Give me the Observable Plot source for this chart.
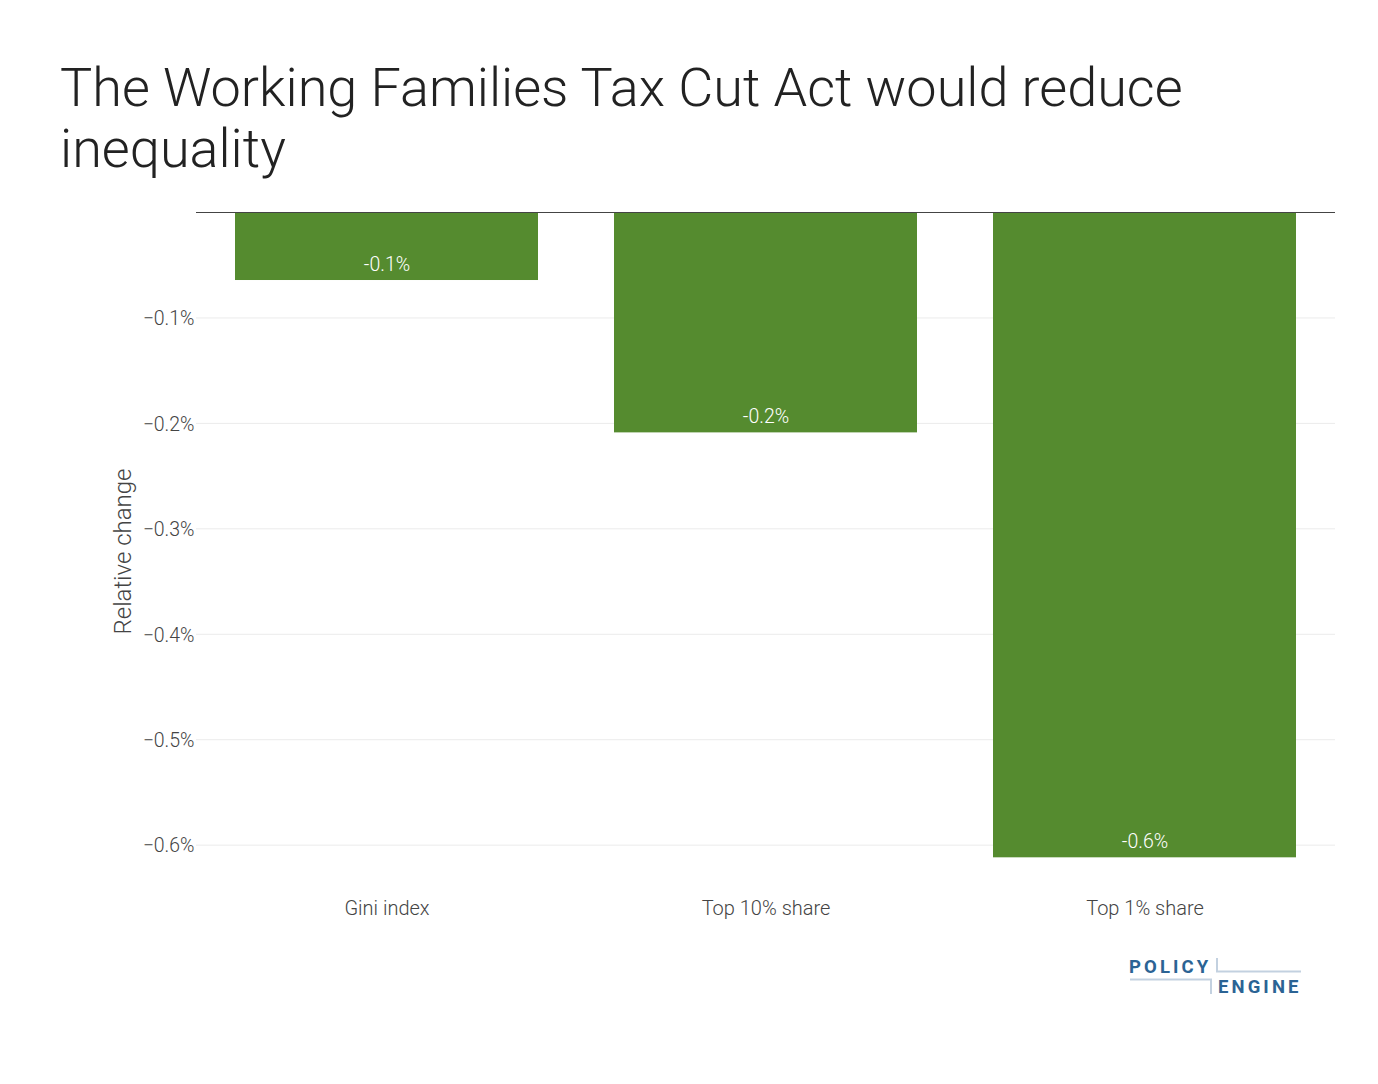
<!DOCTYPE html>
<html>
<head>
<meta charset="utf-8">
<script src="https://cdn.jsdelivr.net/npm/d3@7"></script>
<script src="https://cdn.jsdelivr.net/npm/@observablehq/plot@0.6"></script>
<style>
  html, body { margin: 0; padding: 0; background: #fff; }
  body { width: 1378px; height: 1084px; position: relative; font-family: Roboto, sans-serif; }
  #title { position: absolute; left: 60px; top: 57px; font-size: 54px; font-weight: 300; color: #222; line-height: 61px; margin: 0; width: 1200px; }
  #chart { position: absolute; left: 0; top: 190px; }
  #chart svg text { font-weight: 300; }
  #logo { position: absolute; left: 1125px; top: 950px; }
</style>
</head>
<body>
<h1 id="title">The Working Families Tax Cut Act would reduce inequality</h1>
<div id="chart"></div>
<svg id="logo" width="190" height="55" viewBox="1125 950 190 55">
  <path d="M1217,958 V971.5 H1301" fill="none" stroke="#C3D1E0" stroke-width="2"/>
  <path d="M1130,979.5 H1211 V994" fill="none" stroke="#C3D1E0" stroke-width="2"/>
  <text x="1129" y="973" font-family="Roboto, sans-serif" font-weight="700" font-size="18.5" letter-spacing="3.1" fill="#2B6394">POLICY</text>
  <text x="1218" y="993" font-family="Roboto, sans-serif" font-weight="700" font-size="18.5" letter-spacing="3.1" fill="#2B6394">ENGINE</text>
</svg>
<script>
const categories = ["Gini index", "Top 10% share", "Top 1% share"];
const values = [-0.0645, -0.209, -0.612];
const labels = ["-0.1%", "-0.2%", "-0.6%"];
const yTicks = [-0.1, -0.2, -0.3, -0.4, -0.5, -0.6];

const data = categories.map((c, i) => ({category: c, value: values[i], label: labels[i]}));

const chart = Plot.plot({
  width: 1378,
  height: 760,
  marginTop: 22,
  marginBottom: 60,
  marginLeft: 196,
  marginRight: 43,
  style: {fontFamily: "Roboto, sans-serif", background: "#fff"},
  x: {domain: categories, paddingInner: 0.2, paddingOuter: 0.1, label: null},
  y: {domain: [-0.643, 0], label: null},
  marks: [
    Plot.ruleY(yTicks, {stroke: "#ebebeb", strokeWidth: 1}),
    Plot.barY(data, {x: "category", y: "value", fill: "#558B2F"}),
    Plot.ruleY([0], {stroke: "#444", strokeWidth: 1}),
    Plot.text(data, {x: "category", y: "value", text: "label", dy: -16, fill: "#fff", fontSize: 19.5}),
    Plot.axisY({ticks: yTicks, tickSize: 0, tickPadding: 2, dy: 1, tickFormat: d => d3.format(".1f")(d).replace("-", "\u2212") + "%", fontSize: 19.5, color: "#444", label: null}),
    Plot.axisX({tickSize: 0, tickPadding: 10, fontSize: 20, color: "#444", label: null}),
    Plot.text(["Relative change"], {frameAnchor: "left", textAnchor: "middle", dx: -73, rotate: -90, fontSize: 24, fill: "#444"})
  ]
});
document.getElementById("chart").appendChild(chart);
</script>
</body>
</html>
